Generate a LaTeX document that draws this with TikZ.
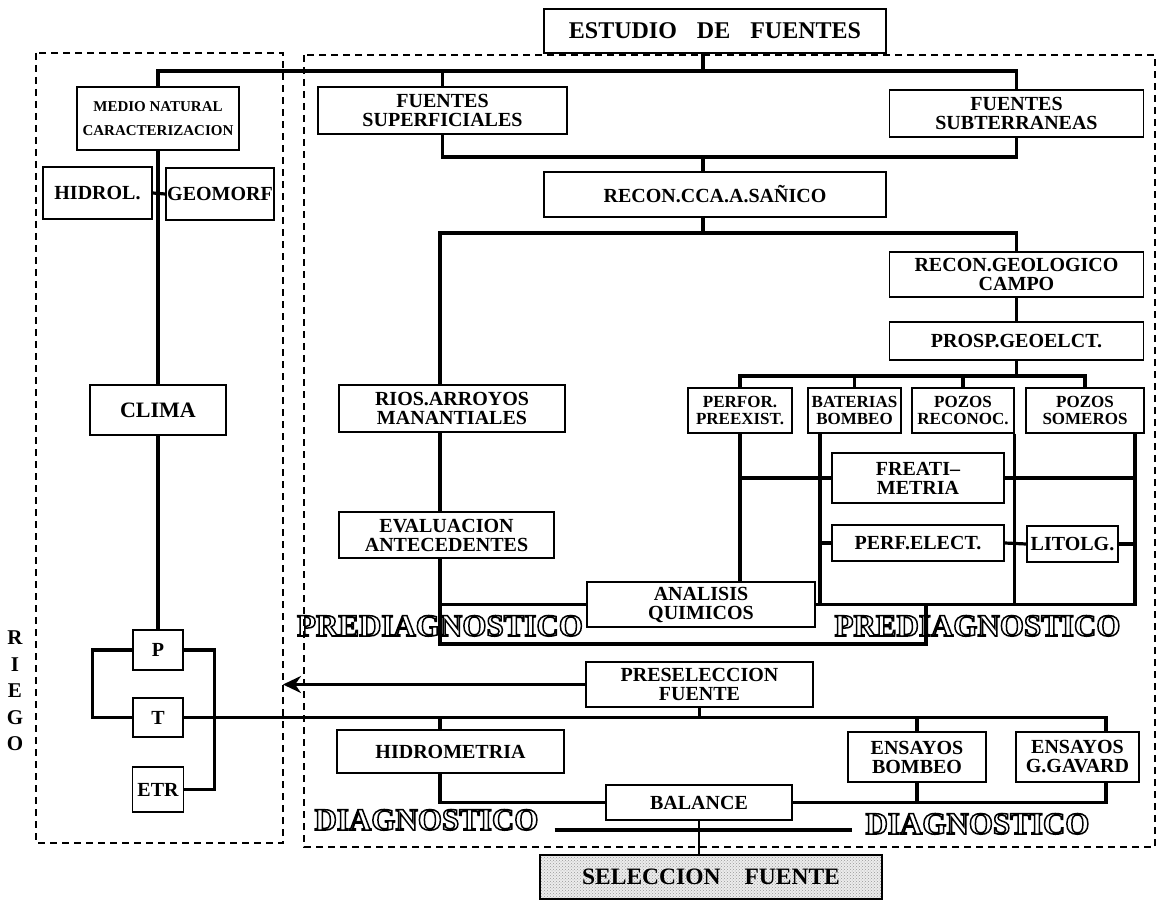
\documentclass[tikz,border=0pt]{standalone}
\usepackage{fontspec}
\setmainfont{Liberation Serif}
\usetikzlibrary{arrows.meta,patterns}
\newcommand{\boxfont}{\fontsize{20}{19}\selectfont\bfseries}
\newcommand{\smallboxfont}{\fontsize{17}{17}\selectfont\bfseries}
\newcommand{\headfont}{\fontsize{31}{31}\selectfont\bfseries}
\newcommand{\hollow}[1]{\special{pdf:literal direct 1 Tr 1.5 w}#1\special{pdf:literal direct 0 Tr}}

\begin{document}
\begin{tikzpicture}[x=1pt, y=-1pt,
    box/.style={draw, line width=1.6pt, fill=white, inner sep=0pt, align=center, font=\boxfont},
    smallbox/.style={box, font=\smallboxfont},
    sz/.style 2 args={minimum width=#1pt, minimum height=#2pt},
    bus/.style={line width=3.2pt},
    frame/.style={line width=1.6pt, dash pattern=on 7pt off 5pt},
    heading/.style={font=\headfont, inner sep=0pt, anchor=base},
    ]
    \useasboundingbox (0,0) rectangle (1157,901);

    %Frames
    \coordinate (lframe) at (283,843);
    \draw[frame] (36,53) rectangle (lframe);
    \draw[frame] (304,55) rectangle (1155,847);

    %Nodes
    \node[box, sz={342}{44}, font=\fontsize{24}{24}\selectfont\bfseries] (estudio) at (715,31) {ESTUDIO\hspace{20pt}DE\hspace{20pt}FUENTES};
    \node[box, sz={162}{63}, font=\fontsize{15}{24}\selectfont\bfseries] (medio) at (158,118.5) {MEDIO NATURAL\\CARACTERIZACION};
    \node[box, sz={109}{52}] (hidrol) at (97.5,193) {HIDROL.};
    \node[box, sz={108}{52}] (geomorf) at (220,194) {GEOMORF};
    \node[box, sz={136}{50}, font=\fontsize{22}{22}\selectfont\bfseries] (clima) at (158,410) {CLIMA};
    \node[box, sz={50}{40}] (P) at (158,650) {P};
    \node[box, sz={50}{39}] (T) at (158,717.5) {T};
    \node[box, sz={51}{45}] (ETR) at (158,789.5) {ETR};

    \node[box, sz={249}{47}] (fsup) at (442.5,110.5) {FUENTES\\SUPERFICIALES};
    \node[box, sz={254}{47}] (fsub) at (1016.5,113.5) {FUENTES\\SUBTERRANEAS};
    \node[box, sz={342}{45}] (recon) at (715,194.5) {RECON.CCA.A.SAÑICO};
    \node[box, sz={254}{45}] (rgeo) at (1016.5,274.5) {RECON.GEOLOGICO\\CAMPO};
    \node[box, sz={254}{38}] (prosp) at (1016.5,341) {PROSP.GEOELCT.};
    \node[box, sz={226}{47}] (rios) at (452,408.5) {RIOS.ARROYOS\\MANANTIALES};
    \node[box, sz={215}{46}] (evalu) at (446.5,535) {EVALUACION\\ANTECEDENTES};

    \node[smallbox, sz={104}{45}] (perfor) at (740,410.5) {PERFOR.\\PREEXIST.};
    \node[smallbox, sz={93}{45}] (bater) at (854.5,410.5) {BATERIAS\\BOMBEO};
    \node[smallbox, sz={102}{45}] (preco) at (963,410.5) {POZOS\\RECONOC.};
    \node[smallbox, sz={118}{45}] (psom) at (1085,410.5) {POZOS\\SOMEROS};
    \node[box, sz={172}{50}] (freat) at (918,478) {FREATI--\\METRIA};
    \node[box, sz={172}{36}] (perfel) at (918,543) {PERF.ELECT.};
    \node[box, sz={91}{36}] (litolg) at (1072.5,544) {LITOLG.};
    \node[box, sz={228}{45}] (analis) at (701,604.5) {ANALISIS\\QUIMICOS};

    \node[box, sz={227}{45}] (presel) at (699.5,684.5) {PRESELECCION\\FUENTE};
    \node[box, sz={227}{43}] (hidrom) at (450.5,751.5) {HIDROMETRIA};
    \node[box, sz={138}{50}] (ebomb) at (917,757) {ENSAYOS\\BOMBEO};
    \node[box, sz={123}{50}] (egav) at (1077.5,757) {ENSAYOS\\G.GAVARD};
    \node[box, sz={186}{35}] (balance) at (699,802.5) {BALANCE};
    \node[box, sz={342}{44}, preaction={fill=gray!15}, pattern=crosshatch dots, pattern color=gray!80,
          font=\fontsize{23.5}{24}\selectfont\bfseries] (selec) at (711,877) {SELECCION\hspace{24pt}FUENTE};

    \node[font=\fontsize{21}{26.5}\selectfont\bfseries, align=center, inner sep=0pt] (riego) at (15,691) {R\\I\\E\\G\\O};

    %Junctions
    \coordinate (b1) at (703,71);
    \coordinate (b2) at (703,157);
    \coordinate (b3) at (703,233);
    \coordinate (b4) at (1016.5,376);
    \coordinate (lx) at (440,0);
    \coordinate (bx) at (820,0);
    \coordinate (sx) at (1135,0);
    \coordinate (gx) at (1106,0);
    \coordinate (bt) at (926,644);

    %Lines
    \draw[bus] (medio.north) |- (b1) -| (fsub.north);
    \draw[bus] (estudio.south -| b1) -- (b1);
    \draw[bus] (fsup.north) -- (fsup.north |- b1);
    \draw[bus] (fsup.south) |- (b2) -| (fsub.south);
    \draw[bus] (b2) -- (recon.north -| b2);
    \draw[bus] (recon.south -| b2) -- (b3);
    \draw[bus] (rios.north -| lx) |- (b3) -| (rgeo.north);
    \draw[bus] (rgeo.south) -- (prosp.north);
    \draw[bus] (prosp.south) -- (b4);
    \draw[bus] (perfor.north) |- (b4) -| (psom.north);
    \draw[bus] (bater.north) -- (bater.north |- b4);
    \draw[bus] (preco.north) -- (preco.north |- b4);

    \draw[bus] (perfor.south) -- (perfor.south |- analis.north);
    \draw[bus] (analis.east) -| (psom.south -| sx);
    \draw[bus] (bater.south -| bx) -- (bx |- analis.east);
    \draw[bus] (preco.south east) -- (preco.south east |- analis.east);
    \draw[bus] (perfor.south |- freat.west) -- (freat.west);
    \draw[bus] (freat.east) -- (freat.east -| sx);
    \draw[bus] (bx |- perfel.west) -- (perfel.west);
    \draw[bus] (perfel.east) -- (litolg.west);
    \draw[bus] (litolg.east) -- (litolg.east -| sx);

    \draw[bus] (rios.south -| lx) -- (evalu.north -| lx);
    \draw[bus] (evalu.south -| lx) |- (bt) -- (bt |- analis.east);
    \draw[bus] (lx |- analis.west) -- (analis.west);

    \draw[bus] (medio.south) -- (clima.north);
    \draw[bus] (hidrol.east) -- (geomorf.west);
    \draw[bus] (clima.south) -- (P.north);
    \draw[bus] (P.west) -- ++(-40,0) |- (T.west);
    \draw[bus] (P.east) -- ++(31,0) |- (ETR.east);

    \draw[bus] (T.east) -| (egav.north -| gx);
    \draw[bus] (presel.south) -- (presel.south |- T.east);
    \draw[bus] (hidrom.north -| lx) -- (lx |- T.east);
    \draw[bus] (ebomb.north) -- (ebomb.north |- T.east);
    \draw[line width=3.6pt, -{Stealth[length=18pt, width=17pt]}] (presel.west) -- (presel.west -| lframe);

    \draw[bus] (hidrom.south -| lx) |- (balance.west);
    \draw[bus] (balance.east) -| (egav.south -| gx);
    \draw[bus] (ebomb.south) -- (ebomb.south |- balance.east);
    \draw[line width=2.4pt] (balance.south) -- (balance.south |- selec.north);

    %Headings
    \node[heading] (prediagL) at (440,636) {\hollow{PREDIAGNOSTICO}};
    \node[heading] (prediagR) at (977.5,636) {\hollow{PREDIAGNOSTICO}};
    \node[heading] (diagL) at (426.5,830) {\hollow{DIAGNOSTICO}};
    \node[heading] (diagR) at (977.5,834) {\hollow{DIAGNOSTICO}};
    \coordinate (dl) at ([xshift=16pt]diagL.base east);
    \coordinate (dr) at ([xshift=-13pt]diagR.base west);
    \draw[bus] (dl) -- (dl -| dr);
\end{tikzpicture}
\end{document}
